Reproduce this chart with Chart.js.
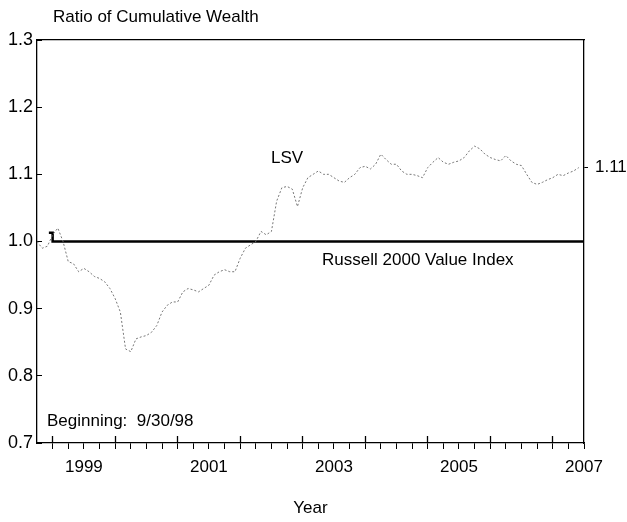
<!DOCTYPE html>
<html>
<head>
<meta charset="utf-8">
<script src="https://cdn.jsdelivr.net/npm/chart.js@4/dist/chart.umd.min.js"></script>
<style>
  html, body { margin: 0; padding: 0; background: #fff; }
  #wrap { width: 627px; height: 522px; }
</style>
</head>
<body>
<div id="wrap"><canvas id="ratio-chart"></canvas></div>
<script>
// LSV / Russell 2000 Value, monthly from 9/30/98
var startYear = 1998.75;
var lsvRatio = [
  1.000, 0.990, 0.993, 1.010, 1.020, 1.000, 0.970, 0.967, 0.955, 0.960,
  0.955, 0.948, 0.945, 0.940, 0.930, 0.915, 0.895, 0.840, 0.836, 0.855,
  0.858, 0.860, 0.865, 0.875, 0.895, 0.905, 0.910, 0.910, 0.925, 0.930,
  0.928, 0.925, 0.930, 0.935, 0.950, 0.955, 0.958, 0.955, 0.955, 0.975,
  0.990, 0.995, 1.000, 1.015, 1.010, 1.015, 1.060, 1.080, 1.082, 1.078,
  1.052, 1.080, 1.095, 1.100, 1.105, 1.100, 1.100, 1.095, 1.090, 1.088,
  1.095, 1.100, 1.110, 1.112, 1.108, 1.115, 1.130, 1.122, 1.115, 1.115,
  1.105, 1.100, 1.100, 1.098, 1.095, 1.110, 1.118, 1.125, 1.118, 1.115,
  1.118, 1.120, 1.125, 1.135, 1.142, 1.138, 1.130, 1.125, 1.122, 1.120,
  1.128, 1.120, 1.115, 1.113, 1.100, 1.088, 1.085, 1.088, 1.092, 1.095,
  1.100, 1.098, 1.102, 1.105, 1.110
];
var russellX = [1998.94, 1999.0, 1999.0, 2007.5];
var russellY = [1.013, 1.013, 1.0, 1.0];

var yearLabels = ['1999', '2001', '2003', '2005', '2007'];
var yearLabelPos = [1999.5, 2001.5, 2003.5, 2005.5, 2007.5];
var majorYears = [1999, 2000, 2001, 2002, 2003, 2004, 2005, 2006, 2007];
var endLabel = '1.11';
var endValue = 1.11;

var notes = [
  { text: 'LSV', x: 2002.75, y: 1.124, align: 'center' },
  { text: 'Russell 2000 Value Index', x: 2003.31, y: 0.972, align: 'left' },
  { text: 'Beginning:  9/30/98', x: 1998.91, y: 0.732, align: 'left' }
];

var lsvPoints = [];
for (var i = 0; i < lsvRatio.length; i++) {
  lsvPoints.push({ x: startYear + i / 12, y: lsvRatio[i] });
}
var russellPoints = [];
for (var i = 0; i < russellX.length; i++) {
  russellPoints.push({ x: russellX[i], y: russellY[i] });
}
var quarterTicks = [];
for (var q = 0; q <= 34; q++) quarterTicks.push({ value: 1999 + q / 4 });

Chart.defaults.font.family = "'Liberation Sans', Arial, sans-serif";
Chart.defaults.color = '#000';

var notesPlugin = {
  id: 'notes',
  afterDraw: function(chart) {
    var ctx = chart.ctx, xs = chart.scales.x, ys = chart.scales.y;
    ctx.save();
    ctx.fillStyle = '#000';
    ctx.font = "17px 'Liberation Sans', Arial, sans-serif";
    ctx.textBaseline = 'middle';
    notes.forEach(function(n) {
      ctx.textAlign = n.align;
      ctx.fillText(n.text, xs.getPixelForValue(n.x), ys.getPixelForValue(n.y));
    });
    ctx.textAlign = 'left';
    ctx.fillText('Ratio of Cumulative Wealth', chart.chartArea.left + 16, chart.chartArea.top - 23);
    ctx.restore();
  }
};

var ctx = document.getElementById('ratio-chart').getContext('2d');
var myChart = new Chart(ctx, {
  type: 'line',
  data: {
    datasets: [
      {
        label: 'LSV',
        data: lsvPoints,
        borderColor: '#777',
        borderWidth: 1,
        borderDash: [2, 2],
        pointRadius: 0,
        tension: 0,
        xAxisID: 'x',
        yAxisID: 'y'
      },
      {
        label: 'Russell 2000 Value Index',
        data: russellPoints,
        borderColor: '#000',
        borderWidth: 2.5,
        pointRadius: 0,
        tension: 0,
        xAxisID: 'x',
        yAxisID: 'y'
      }
    ]
  },
  options: {
    responsive: true,
    maintainAspectRatio: false,
    animation: false,
    layout: { padding: { top: 40, left: 0, right: 0, bottom: 0 } },
    plugins: {
      legend: { display: false },
      tooltip: { enabled: false }
    },
    scales: {
      xMaj: {
        type: 'linear',
        position: 'bottom',
        weight: 0,
        min: 1998.75,
        max: 2007.5,
        afterBuildTicks: function(s) { s.ticks = majorYears.map(function(v) { return { value: v }; }); },
        afterFit: function(s) { s.height = 0; },
        ticks: { display: false },
        grid: { drawOnChartArea: false, tickLength: -7, color: '#000', tickWidth: 1.3 },
        border: { display: false }
      },
      x: {
        type: 'linear',
        position: 'bottom',
        weight: 1,
        min: 1998.75,
        max: 2007.5,
        afterBuildTicks: function(s) { s.ticks = quarterTicks.slice(); },
        afterFit: function(s) { s.height = 79; },
        ticks: {
          autoSkip: false,
          maxRotation: 0,
          padding: 8,
          font: { size: 17 },
          callback: function(v) {
            var k = yearLabelPos.indexOf(v);
            return k >= 0 ? yearLabels[k] : '';
          }
        },
        grid: { drawOnChartArea: false, tickLength: 6, color: '#000' },
        border: { color: '#000', width: 1.3 },
        title: { display: true, text: 'Year', font: { size: 17 }, padding: { top: 0, bottom: 3 } }
      },
      xTop: {
        type: 'linear',
        position: 'top',
        min: 1998.75,
        max: 2007.5,
        afterFit: function(s) { s.height = 0; },
        ticks: { display: false },
        grid: { display: false },
        border: { color: '#000', width: 1.3 }
      },
      y: {
        position: 'left',
        min: 0.7,
        max: 1.3,
        afterFit: function(s) { s.width = 37; },
        ticks: {
          stepSize: 0.1,
          padding: 9,
          font: { size: 18 },
          callback: function(v) { return v.toFixed(1); }
        },
        grid: { drawOnChartArea: false, tickLength: -5, color: '#000' },
        border: { color: '#000', width: 1.3 }
      },
      y2: {
        position: 'right',
        min: 0.7,
        max: 1.3,
        afterBuildTicks: function(s) { s.ticks = [{ value: endValue }]; },
        afterFit: function(s) { s.width = 43; },
        ticks: {
          padding: 7,
          font: { size: 17 },
          callback: function() { return endLabel; }
        },
        grid: { drawOnChartArea: false, tickLength: 4, color: '#000' },
        border: { color: '#000', width: 1.3 }
      }
    }
  },
  plugins: [notesPlugin]
});
</script>
</body>
</html>
